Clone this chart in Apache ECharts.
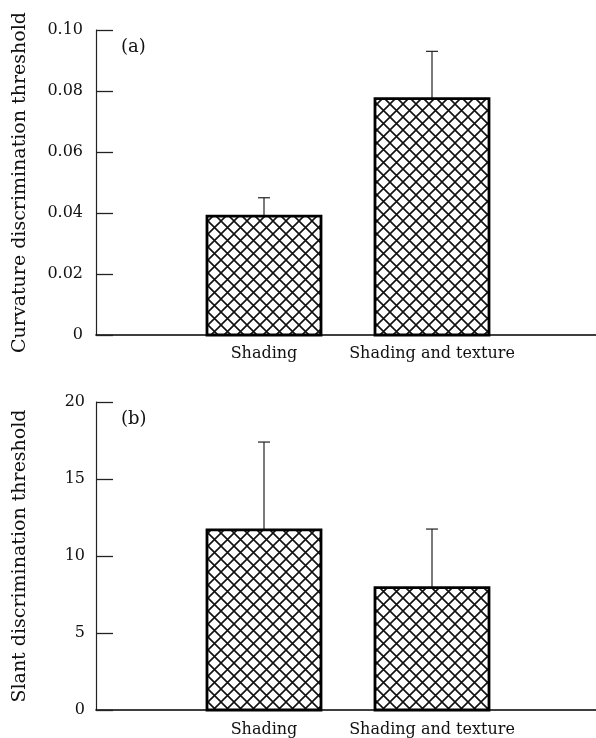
<!DOCTYPE html>
<html>
<head>
<meta charset="utf-8">
<script src="https://cdn.jsdelivr.net/npm/echarts@6/dist/echarts.min.js"></script>
<style>html,body{margin:0;padding:0;background:#fff;}#c{width:596px;height:738px;}</style>
</head>
<body>
<div id="c"></div>
<script>
// ---- data ----
const categories = ['', 'Shading', 'Shading and texture', ''];
const conditions = ['Shading', 'Shading and texture'];
const curvMean = [0.039, 0.0775];
const curvSE = [0.006, 0.0155];
const slantMean = [11.7, 7.95];
const slantSE = [5.7, 3.8];
const curvTicks = [0, 0.02, 0.04, 0.06, 0.08, 0.10];
const slantTicks = [0, 5, 10, 15, 20];

// ---- hatch pattern ----
function makeHatch() {
  const s = 13;
  const c = document.createElement('canvas');
  c.width = s; c.height = s;
  const g = c.getContext('2d');
  g.fillStyle = '#fff';
  g.fillRect(0, 0, s, s);
  g.strokeStyle = '#111';
  g.lineWidth = 1.6;
  g.beginPath();
  g.moveTo(-1, -1); g.lineTo(s + 1, s + 1);
  g.moveTo(s + 1, -1); g.lineTo(-1, s + 1);
  g.stroke();
  return c;
}
const hatch = makeHatch();
const FONT = 'DejaVu Serif';

function barData(means, ses) {
  return conditions.map((c, i) => [c, means[i], ses[i]]);
}

function renderBar(params, api) {
  const x = api.value(0);
  const v = api.value(1);
  const e = api.value(2);
  const top = api.coord([x, v]);
  const base = api.coord([x, 0]);
  const err = api.coord([x, v + e]);
  const hw = 57;
  return {
    type: 'group',
    children: [
      { type: 'line', shape: { x1: top[0], y1: top[1], x2: err[0], y2: err[1] },
        style: { stroke: '#222', lineWidth: 1.2 } },
      { type: 'line', shape: { x1: err[0] - 6, y1: err[1], x2: err[0] + 6, y2: err[1] },
        style: { stroke: '#222', lineWidth: 1.2 } },
      { type: 'rect', shape: { x: top[0] - hw, y: top[1], width: 2 * hw, height: base[1] - top[1] },
        style: { fill: { image: hatch, repeat: 'repeat' }, stroke: '#000', lineWidth: 2.8 } }
    ]
  };
}

function xAxis(gridIndex, margin) {
  return {
    type: 'category', gridIndex, data: categories, boundaryGap: false,
    axisLine: { lineStyle: { color: '#000', width: 1.6 } },
    axisTick: { show: false },
    axisLabel: { interval: 0, margin, color: '#111', fontFamily: FONT, fontSize: 16 },
    splitLine: { show: false }
  };
}
function yAxis(gridIndex, ticks, name, fmt, margin) {
  return {
    type: 'value', gridIndex, min: ticks[0], max: ticks[ticks.length - 1],
    interval: ticks[1] - ticks[0],
    name, nameLocation: 'middle', nameGap: 66,
    nameTextStyle: { color: '#111', fontFamily: FONT, fontSize: 19 },
    axisLine: { show: true, lineStyle: { color: '#222', width: 1.2 } },
    axisTick: { show: true, inside: true, length: 17, lineStyle: { color: '#222', width: 1.3 } },
    axisLabel: { margin, color: '#111', fontFamily: FONT, fontSize: 16, formatter: fmt },
    splitLine: { show: false }
  };
}

const chart = echarts.init(document.getElementById('c'), null, { renderer: 'canvas' });
chart.setOption({
  backgroundColor: '#fff',
  animation: false,
  title: [
    { text: '(a)', left: 116, top: 33, textStyle: { fontFamily: FONT, fontSize: 18, fontWeight: 'normal', color: '#111' } },
    { text: '(b)', left: 116, top: 405, textStyle: { fontFamily: FONT, fontSize: 18, fontWeight: 'normal', color: '#111' } }
  ],
  grid: [
    { left: 96, width: 504, top: 30, height: 305, outerBoundsMode: 'none', containLabel: false },
    { left: 96, width: 504, top: 402, height: 308, outerBoundsMode: 'none', containLabel: false }
  ],
  xAxis: [xAxis(0, 11), xAxis(1, 12)],
  yAxis: [
    yAxis(0, curvTicks, 'Curvature discrimination threshold', v => v === 0 ? '0' : v.toFixed(2), 13),
    yAxis(1, slantTicks, 'Slant discrimination threshold', v => String(v), 11)
  ],
  series: [
    { type: 'custom', xAxisIndex: 0, yAxisIndex: 0, data: barData(curvMean, curvSE),
      encode: { x: 0, y: 1 }, renderItem: renderBar, clip: false },
    { type: 'custom', xAxisIndex: 1, yAxisIndex: 1, data: barData(slantMean, slantSE),
      encode: { x: 0, y: 1 }, renderItem: renderBar, clip: false }
  ]
});
</script>
</body>
</html>
